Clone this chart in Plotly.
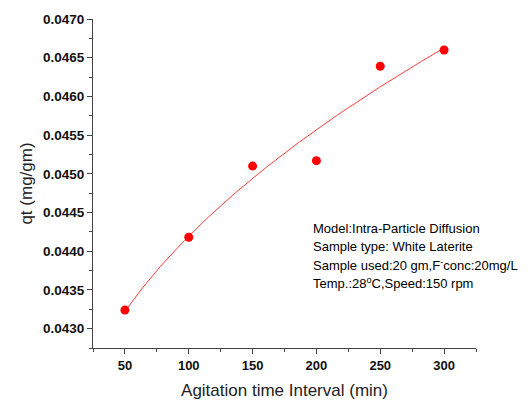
import numpy as np
import plotly.graph_objects as go

# Data
time_min = [50, 100, 150, 200, 250, 300]
qt = [0.04324, 0.04418, 0.04510, 0.04517, 0.04639, 0.04660]
x_ticks = [50, 100, 150, 200, 250, 300]
y_ticks = [0.0430, 0.0435, 0.0440, 0.0445, 0.0450, 0.0455, 0.0460, 0.0465, 0.0470]
info_lines = [
    "Model:Intra-Particle Diffusion",
    "Sample type: White Laterite",
    "Sample used:20 gm,F<sup>-</sup>conc:20mg/L",
    "Temp.:28<sup>o</sup>C,Speed:150 rpm",
]

# Intra-particle diffusion fit: qt = k*sqrt(t) + C
k, c = np.polyfit(np.sqrt(time_min), qt, 1)
t_fit = np.linspace(min(time_min), max(time_min), 200)
q_fit = k * np.sqrt(t_fit) + c

fig = go.Figure()
fig.add_trace(go.Scatter(x=t_fit, y=q_fit, mode="lines",
                         line=dict(color="#ff3b3b", width=1), hoverinfo="skip"))
fig.add_trace(go.Scatter(x=time_min, y=qt, mode="markers",
                         marker=dict(color="#ff0000", size=9)))

font = "Liberation Sans, Arial, sans-serif"
fig.update_layout(
    width=528, height=408,
    margin=dict(l=93, r=52, t=19, b=56),
    paper_bgcolor="white", plot_bgcolor="white",
    showlegend=False,
    font=dict(family=font, color="#111111"),
    xaxis=dict(range=[25, 325], tickvals=x_ticks, ticktext=[str(v) for v in x_ticks],
               showgrid=False, zeroline=False, showline=True, linecolor="#444444", linewidth=1,
               ticks="outside", ticklen=5, tickcolor="#444444",
               minor=dict(dtick=25, tick0=25, ticks="outside", ticklen=3, tickcolor="#444444"),
               tickfont=dict(size=13, family=font, color="#111111", weight="bold"),
               title=dict(text="Agitation time Interval (min)", font=dict(size=17, family=font, color="#222222"),
                          standoff=12)),
    yaxis=dict(range=[0.04275, 0.0470], tickvals=y_ticks, ticktext=[f"{v:.4f}" for v in y_ticks],
               showgrid=False, zeroline=False, showline=True, linecolor="#444444", linewidth=1,
               ticks="outside", ticklen=5, tickcolor="#444444",
               minor=dict(dtick=0.00025, tick0=0.04275, ticks="outside", ticklen=3, tickcolor="#444444"),
               tickfont=dict(size=13.5, family=font, color="#111111", weight="bold"),
               title=dict(text="qt (mg/gm)", font=dict(size=17, family=font, color="#222222"),
                          standoff=6)),
)

for i, line in enumerate(info_lines):
    fig.add_annotation(
        xref="paper", yref="paper", x=0.568, y=0.362 - i * 0.0547,
        xanchor="left", yanchor="middle",
        showarrow=False, align="left", text=line,
        font=dict(size=13, family=font, color="#000000"),
    )

fig.write_html("out.html")
